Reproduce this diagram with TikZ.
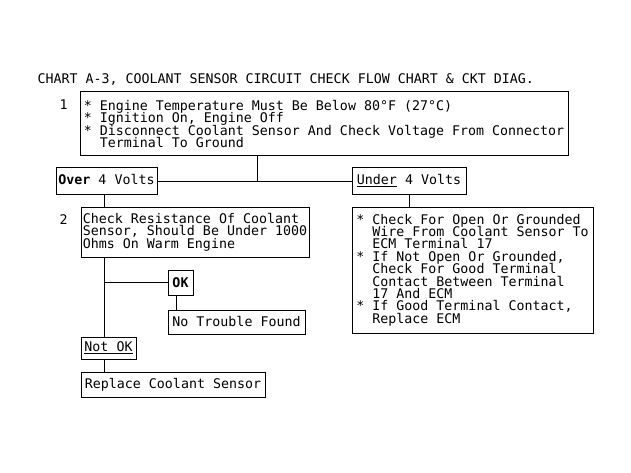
\documentclass[tikz,border=0pt]{standalone}
\usepackage{fontspec}
\setmainfont{DejaVu Sans Mono}
\setlength{\lineskiplimit}{-20pt}
\newcommand{\indt}{\hphantom{* }}
\begin{document}
\begin{tikzpicture}[x=1pt,y=-1pt,line width=1pt,
  font=\fontsize{13.3}{12.4}\selectfont,
  box/.style={draw,line width=1pt,anchor=north west,outer sep=0pt,inner sep=0pt,align=left},
  lbl/.style={anchor=base west,inner sep=0pt}]
\useasboundingbox (0,0) rectangle (631,473);
\node[lbl] (Title) at (37,84) {CHART A-3, COOLANT SENSOR CIRCUIT CHECK FLOW CHART \& CKT DIAG.};
\node[lbl] (N1) at (59,110) {1};
\node[box,minimum width=488pt,minimum height=64pt] (Chk1) at (80,92) {* Engine Temperature Must Be Below 80°F (27°C)\\{}* Ignition On, Engine Off\\{}* Disconnect Coolant Sensor And Check Voltage From Connector\\\indt Terminal To Ground};
\node[box,minimum width=101pt,minimum height=26pt] (Over) at (56,168) {\textbf{Over} 4 Volts\vphantom{\underline{U}}};
\node[box,minimum width=114pt,minimum height=26pt] (Under) at (352,168) {\underline{Under} 4 Volts};
\node[lbl] (N2) at (59,224) {2};
\node[box,minimum width=228pt,minimum height=50pt] (Chk2) at (81,207) {Check Resistance Of Coolant\\Sensor, Should Be Under 1000\\Ohms On Warm Engine};
\node[box,minimum width=241pt,minimum height=126pt] (Ecm) at (352,207) {* Check For Open Or Grounded\\\indt Wire From Coolant Sensor To\\\indt ECM Terminal 17\\{}* If Not Open Or Grounded,\\\indt Check For Good Terminal\\\indt Contact Between Terminal\\\indt 17 And ECM\\{}* If Good Terminal Contact,\\\indt Replace ECM};
\node[box,minimum width=25pt,minimum height=25pt] (Ok) at (168,270) {\textbf{OK}};
\node[box,minimum width=137pt,minimum height=24pt] (Ntf) at (168,310) {No Trouble Found};
\node[box,minimum width=55pt,minimum height=22pt] (NotOk) at (81,337) {\underline{Not OK}};
\node[box,minimum width=184pt,minimum height=25pt] (Repl) at (81,372) {Replace Coolant Sensor};
% branch points
\coordinate (J) at (257,181);
\coordinate (T) at (104,0);
\coordinate (K) at (176,0);
\draw (J |- Chk1.south) -- (J);
\draw (Over.east) -- (Under.west);
\draw (T |- Over.south) -- (T |- Chk2.north);
\draw (Under.south) -- (Under.south |- Ecm.north);
\draw (T |- Chk2.south) -- (T |- NotOk.north);
\draw (T |- Ok.west) -- (Ok.west);
\draw (K |- Ok.south) -- (K |- Ntf.north);
\draw (T |- NotOk.south) -- (T |- Repl.north);
\end{tikzpicture}
\end{document}
